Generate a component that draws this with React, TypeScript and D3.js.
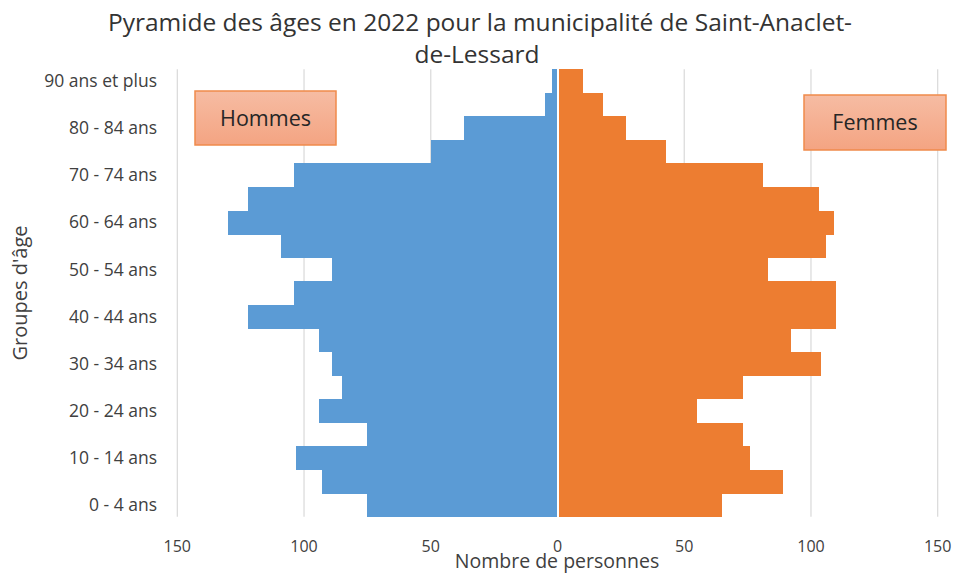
import React, { useEffect, useRef } from 'react';
import * as d3 from 'd3';

// age groups, youngest first
const groupes = [
  '0 - 4 ans', '5 - 9 ans', '10 - 14 ans', '15 - 19 ans', '20 - 24 ans',
  '25 - 29 ans', '30 - 34 ans', '35 - 39 ans', '40 - 44 ans', '45 - 49 ans',
  '50 - 54 ans', '55 - 59 ans', '60 - 64 ans', '65 - 69 ans', '70 - 74 ans',
  '75 - 79 ans', '80 - 84 ans', '85 - 89 ans', '90 ans et plus',
];
const hommes = [75, 93, 103, 75, 94, 85, 89, 94, 122, 104, 89, 109, 130, 122, 104, 50, 37, 5, 2];
const femmes = [65, 89, 76, 73, 55, 73, 104, 92, 110, 110, 83, 106, 109, 103, 81, 43, 27, 18, 10];
const xTicks = [-150, -100, -50, 0, 50, 100, 150];

const W = 955;
const H = 575;
const FONT = "'Open Sans', 'Noto Sans', sans-serif";

const App: React.FC = () => {
  const svgRef = useRef<SVGSVGElement>(null);

  useEffect(() => {
    if (!svgRef.current) return;
    const svg = d3.select(svgRef.current);
    svg.selectAll('*').remove();

    const plot = { left: 177.3, right: 937.7, top: 69.3, bottom: 516.7 };

    const x = d3.scaleLinear().domain([-150, 150]).range([plot.left, plot.right]);
    const y = d3.scaleBand()
      .domain([...groupes].reverse())
      .range([plot.top, plot.bottom])
      .paddingInner(0)
      .paddingOuter(0);

    // gradient for the text boxes
    const defs = svg.append('defs');
    const grad = defs.append('linearGradient')
      .attr('id', 'boxGrad')
      .attr('x1', 0).attr('y1', 0).attr('x2', 0).attr('y2', 1);
    grad.append('stop').attr('offset', '0%').attr('stop-color', '#f6bca3');
    grad.append('stop').attr('offset', '100%').attr('stop-color', '#f4a482');

    // Title
    const title = svg.append('text')
      .attr('text-anchor', 'middle')
      .attr('font-family', FONT)
      .attr('font-size', 24.5)
      .attr('fill', '#333');
    title.append('tspan').attr('x', 480).attr('y', 31)
      .text('Pyramide des âges en 2022 pour la municipalité de Saint-Anaclet-');
    title.append('tspan').attr('x', 477).attr('y', 63).text('de-Lessard');

    // Grid lines
    svg.append('g')
      .selectAll('line')
      .data(xTicks.filter(d => d !== 0))
      .enter().append('line')
      .attr('x1', d => x(d)).attr('x2', d => x(d))
      .attr('y1', plot.top).attr('y2', plot.bottom)
      .attr('stroke', '#d9d9d9')
      .attr('stroke-width', 1.2);

    // Bars: men to the left
    svg.append('g')
      .attr('shape-rendering', 'crispEdges')
      .selectAll('rect')
      .data(hommes)
      .enter().append('rect')
      .attr('x', d => x(-d))
      .attr('y', (_, i) => y(groupes[i]) || 0)
      .attr('width', d => Math.max(0, x(0) - x(-d) - 0.6))
      .attr('height', y.bandwidth() + 0.5)
      .attr('fill', '#5b9bd5');

    // women to the right
    svg.append('g')
      .attr('shape-rendering', 'crispEdges')
      .selectAll('rect')
      .data(femmes)
      .enter().append('rect')
      .attr('x', x(0) + 1)
      .attr('y', (_, i) => y(groupes[i]) || 0)
      .attr('width', d => x(d) - x(0) - 1)
      .attr('height', y.bandwidth() + 0.5)
      .attr('fill', '#ed7d31');

    // X axis labels
    svg.append('g')
      .selectAll('text')
      .data(xTicks)
      .enter().append('text')
      .attr('x', d => x(d))
      .attr('y', 552)
      .attr('text-anchor', 'middle')
      .attr('font-family', FONT)
      .attr('font-size', 16)
      .attr('fill', '#404040')
      .text(d => Math.abs(d).toString());

    // Y axis labels (every other group)
    svg.append('g')
      .selectAll('text')
      .data(groupes.filter((_, i) => i % 2 === 0))
      .enter().append('text')
      .attr('x', 157)
      .attr('y', d => (y(d) || 0) + y.bandwidth() / 2)
      .attr('dy', '0.35em')
      .attr('text-anchor', 'end')
      .attr('font-family', FONT)
      .attr('font-size', 17.5)
      .attr('fill', '#404040')
      .text(d => d);

    // Axis titles
    svg.append('text')
      .attr('x', 557)
      .attr('y', 568)
      .attr('text-anchor', 'middle')
      .attr('font-family', FONT)
      .attr('font-size', 19.5)
      .attr('fill', '#404040')
      .text('Nombre de personnes');

    svg.append('text')
      .attr('transform', 'translate(27,293) rotate(-90)')
      .attr('text-anchor', 'middle')
      .attr('font-family', FONT)
      .attr('font-size', 20)
      .attr('fill', '#404040')
      .text("Groupes d'âge");

    // Label boxes
    const boxes = [
      { label: 'Hommes', x0: 195, y0: 91, w: 141, h: 54 },
      { label: 'Femmes', x0: 804, y0: 95, w: 142, h: 55 },
    ];
    const bx = svg.append('g').selectAll('g').data(boxes).enter().append('g');
    bx.append('rect')
      .attr('x', d => d.x0).attr('y', d => d.y0)
      .attr('width', d => d.w).attr('height', d => d.h)
      .attr('fill', 'url(#boxGrad)')
      .attr('stroke', '#f08a4b')
      .attr('stroke-width', 1.5);
    bx.append('text')
      .attr('x', d => d.x0 + d.w / 2)
      .attr('y', d => d.y0 + d.h / 2)
      .attr('dy', '0.35em')
      .attr('text-anchor', 'middle')
      .attr('font-family', FONT)
      .attr('font-size', 21.5)
      .attr('fill', '#262626')
      .text(d => d.label);
  }, []);

  return (
    <svg ref={svgRef} width={W} height={H}
      style={{ position: 'absolute', left: 0, top: 0, background: '#fff' }} />
  );
};

export default App;
